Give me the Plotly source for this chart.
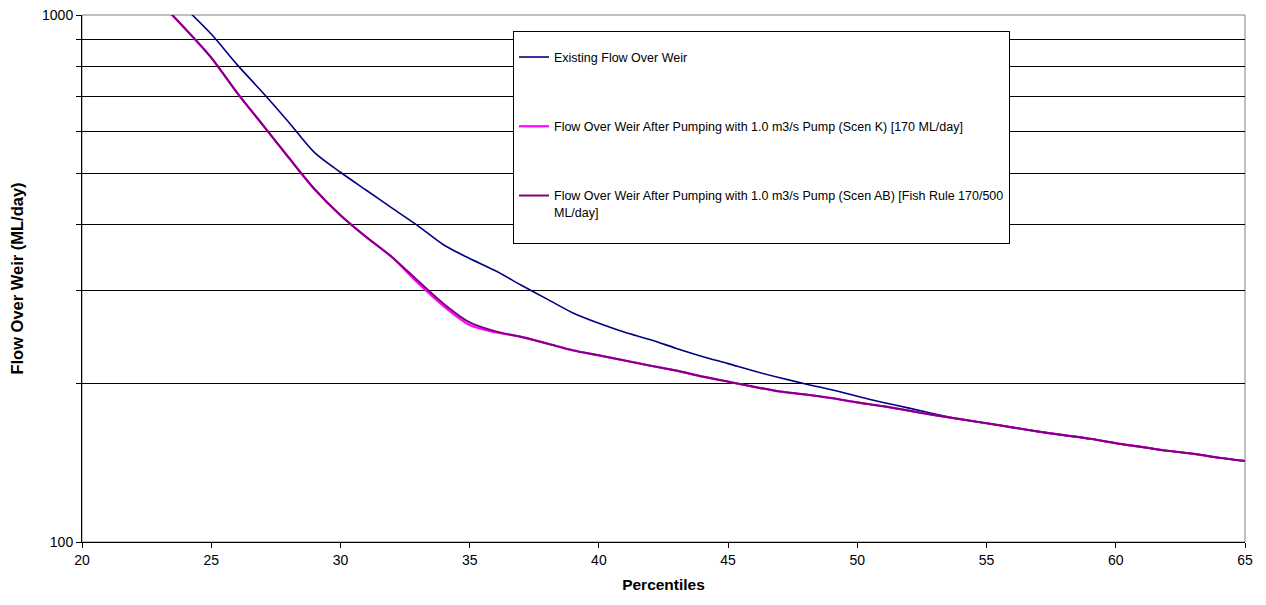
import plotly.graph_objects as go

# Percentile positions (x) and flow over the weir (ML/day) for each scenario
existing_pct = list(range(24, 66))
existing_flow = [1030, 920, 805, 712, 626, 548, 503, 465, 430, 398,
                 366, 345, 327, 307, 289, 272, 260, 250, 242, 233,
                 225, 218, 211, 205, 199.5, 194.5, 189, 184, 179.5, 175,
                 171, 168, 165, 162, 159.5, 157, 154, 151.5, 149, 147,
                 144.5, 142.5]

scen_k_pct = list(range(23, 66))
scen_k_flow = [1059, 941, 830, 712, 618, 536, 467, 417, 379, 347,
               310, 280, 258, 250, 245, 238, 231, 226, 221, 216,
               211.5, 206, 201.5, 197, 193, 190.5, 187.5, 184, 181, 177.5,
               174, 171, 168, 165, 162, 159.5, 157, 154, 151.5, 149,
               147, 144.5, 142.5]

scen_ab_pct = list(range(23, 66))
scen_ab_flow = [1059, 941, 830, 712, 618, 536, 467, 417, 379, 347,
                313, 283, 261, 251, 245, 238, 231, 226, 221, 216,
                211.5, 206, 201.5, 197, 193, 190.5, 187.5, 184, 181, 177.5,
                174, 171, 168, 165, 162, 159.5, 157, 154, 151.5, 149,
                147, 144.5, 142.5]

series_names = [
    "Existing Flow Over Weir",
    "Flow Over Weir After Pumping with 1.0 m3/s Pump (Scen K) [170 ML/day]",
    "Flow Over Weir After Pumping with 1.0 m3/s Pump (Scen AB) [Fish Rule 170/500<br>ML/day]<br> ",
]
series_colors = ["#000080", "#FF00FF", "#800080"]

x_ticks = [20, 25, 30, 35, 40, 45, 50, 55, 60, 65]
y_major = [100, 1000]
y_minor = [200, 300, 400, 500, 600, 700, 800, 900]

fig = go.Figure()
for i, (xs, ys, w) in enumerate([
    (existing_pct, existing_flow, 1.6),
    (scen_k_pct, scen_k_flow, 2.2),
    (scen_ab_pct, scen_ab_flow, 2.0),
]):
    fig.add_trace(go.Scatter(
        x=xs, y=ys, mode="lines", name=series_names[i],
        line=dict(color=series_colors[i], width=w, shape="spline", smoothing=0.8),
        legendgroup=f"g{i}",
    ))

fig.update_layout(
    width=1266, height=605,
    margin=dict(l=82, r=21, t=15, b=63, autoexpand=False),
    paper_bgcolor="white", plot_bgcolor="white",
    font=dict(family="Liberation Sans, Arial, sans-serif", size=14, color="black"),
    showlegend=True,
    legend=dict(
        x=(513 - 82) / (1245 - 82), y=1 - (31 - 15) / (542 - 15),
        xanchor="left", yanchor="top",
        bgcolor="white", bordercolor="#000000", borderwidth=1,
        font=dict(family="Liberation Sans, Arial", size=12.5, color="black"),
        title=dict(text=" ", font=dict(size=8)),
        tracegroupgap=50,
        traceorder="grouped",
        valign="top",
    ),
    shapes=[dict(type="rect", xref="paper", yref="paper", x0=0, x1=1, y0=0, y1=1,
                 line=dict(color="#808080", width=1), layer="below")],
)

fig.update_xaxes(
    range=[20, 65], tickmode="array", tickvals=x_ticks,
    ticks="outside", ticklen=5, tickcolor="black",
    showline=True, linecolor="black", linewidth=1,
    showgrid=False, zeroline=False, automargin=False,
    tickfont=dict(size=14),
    title=dict(text="<b>Percentiles</b>", font=dict(size=15.5), standoff=12),
)
fig.update_yaxes(
    type="log", range=[2, 3],
    tickmode="array", tickvals=y_major, ticktext=[str(v) for v in y_major],
    ticks="outside", ticklen=5, tickcolor="black",
    showline=True, linecolor="black", linewidth=1,
    showgrid=False, zeroline=False, automargin=False,
    tickfont=dict(size=14),
    minor=dict(tickmode="array", tickvals=y_minor, ticks="outside", ticklen=5,
               tickcolor="black", showgrid=True, gridcolor="#000000", gridwidth=1),
    title=dict(text="<b>Flow Over Weir (ML/day)</b>", font=dict(size=16.5), standoff=14),
)

fig.write_html("out.html")
